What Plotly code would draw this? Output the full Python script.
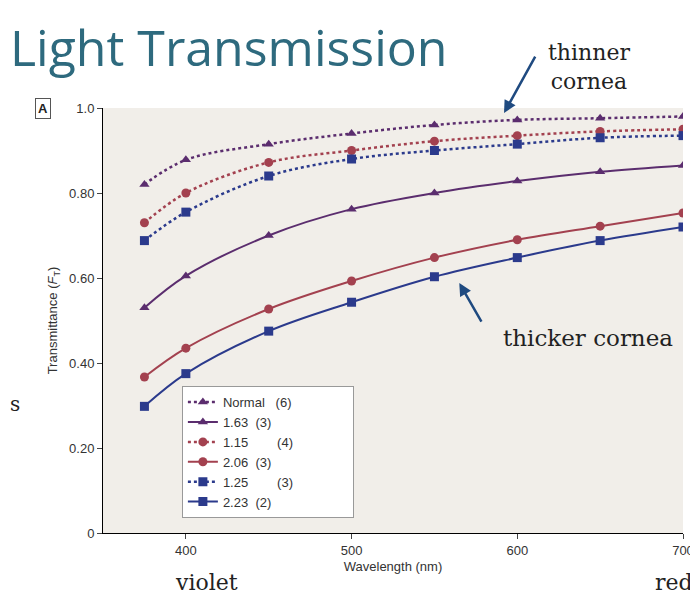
import plotly.graph_objects as go

wavelength = [375, 400, 450, 500, 550, 600, 650, 700]
normal = [0.82, 0.878, 0.915, 0.94, 0.96, 0.972, 0.976, 0.98]
t115 = [0.73, 0.80, 0.872, 0.90, 0.922, 0.935, 0.945, 0.95]
t125 = [0.688, 0.755, 0.84, 0.88, 0.90, 0.915, 0.93, 0.935]
t163 = [0.53, 0.605, 0.70, 0.762, 0.80, 0.828, 0.85, 0.865]
t206 = [0.367, 0.435, 0.527, 0.593, 0.648, 0.69, 0.722, 0.753]
t223 = [0.298, 0.375, 0.475, 0.543, 0.603, 0.648, 0.688, 0.72]
names = ["Normal   (6)", "1.63  (3)", "1.15        (4)", "2.06  (3)", "1.25        (3)", "2.23  (2)"]

PUR, RED, BLU = "#5b2d6e", "#a3414f", "#2b3a8c"
series = [
    (normal, names[0], PUR, "triangle-up", "dot"),
    (t163, names[1], PUR, "triangle-up", "solid"),
    (t115, names[2], RED, "circle", "dot"),
    (t206, names[3], RED, "circle", "solid"),
    (t125, names[4], BLU, "square", "dot"),
    (t223, names[5], BLU, "square", "solid"),
]

fig = go.Figure()
for y, n, c, sym, dash in series:
    fig.add_trace(go.Scatter(x=wavelength, y=y, name=n, mode="lines+markers",
                             line=dict(color=c, width=2.5 if dash == "dot" else 2, dash=dash, shape="spline"),
                             marker=dict(symbol=sym, size=9, color=c)))

fig.update_layout(
    width=698, height=606, paper_bgcolor="white", plot_bgcolor="#f1eee9",
    margin=dict(l=95, r=18, t=100, b=81),
    font=dict(family="Liberation Sans", size=13, color="#333"),
    showlegend=True,
    legend=dict(orientation="h", x=0.49, y=0.035, xanchor="left", yanchor="bottom",
                entrywidth=125, bgcolor="white", bordercolor="#999", borderwidth=1,
                font=dict(size=13, color="#333")),
    xaxis=dict(range=[350, 700], tickvals=[400, 500, 600, 700], showgrid=False, zeroline=False,
               showline=True, linecolor="black", ticks="outside", ticklen=5,
               title=dict(text="Wavelength (nm)", font=dict(size=13), standoff=5)),
    yaxis=dict(range=[0, 1.0], tickvals=[0, 0.2, 0.4, 0.6, 0.8, 1.0],
               ticktext=["0", "0.20", "0.40", "0.60", "0.80", "1.0"], showgrid=False, zeroline=False,
               showline=True, linecolor="black", ticks="outside", ticklen=5,
               title=dict(text="Transmittance (<i>F</i><sub>T</sub>)", font=dict(size=13), standoff=8)),
)

ann = [
    dict(x=0.0, y=1.0, xref="paper", yref="paper", text="Light Transmission", xanchor="left",
         yanchor="bottom", font=dict(family="Open Sans", size=50, color="#2e6a7e"), xshift=-95, yshift=25),
    dict(x=643, y=1.0, xref="x", yref="paper", xanchor="center", yanchor="bottom", yshift=12,
         text="thinner<br>cornea", font=dict(family="DejaVu Serif", size=22, color="#222")),
    dict(x=1.0, y=0.46, xref="paper", yref="y", xanchor="right", xshift=-8, text="thicker cornea",
         font=dict(family="DejaVu Serif", size=23, color="#222")),
    dict(x=0.0, y=0.0, xref="paper", yref="paper", text="violet", xanchor="left", yanchor="top",
         xshift=70, yshift=-35, font=dict(family="DejaVu Serif", size=22, color="#222")),
    dict(x=1.0, y=0.0, xref="paper", yref="paper", text="red", xanchor="right", yanchor="top",
         xshift=12, yshift=-35, font=dict(family="DejaVu Serif", size=22, color="#222")),
    dict(x=0.0, y=1.0, xref="paper", yref="paper", text="<b>A</b>", xanchor="center", yanchor="middle",
         xshift=-60, font=dict(size=13, color="#222"), bordercolor="#555", borderwidth=1, borderpad=2),
    dict(x=0.0, y=0.27, xref="paper", yref="paper", text="s", xanchor="left", xshift=-95,
         font=dict(family="DejaVu Serif", size=20, color="#222")),
]
for a in ann:
    fig.add_annotation(showarrow=False, **a)

fig.add_annotation(x=592, y=0.988, ax=32, ay=-58, xref="x", yref="y",
                   text="", showarrow=True, arrowhead=2, arrowwidth=2.5, arrowcolor="#1f4a80")
fig.add_annotation(x=565, y=0.588, ax=23, ay=40, xref="x", yref="y",
                   text="", showarrow=True, arrowhead=2, arrowwidth=2.5, arrowcolor="#1f4a80")
fig.write_html("out.html")
